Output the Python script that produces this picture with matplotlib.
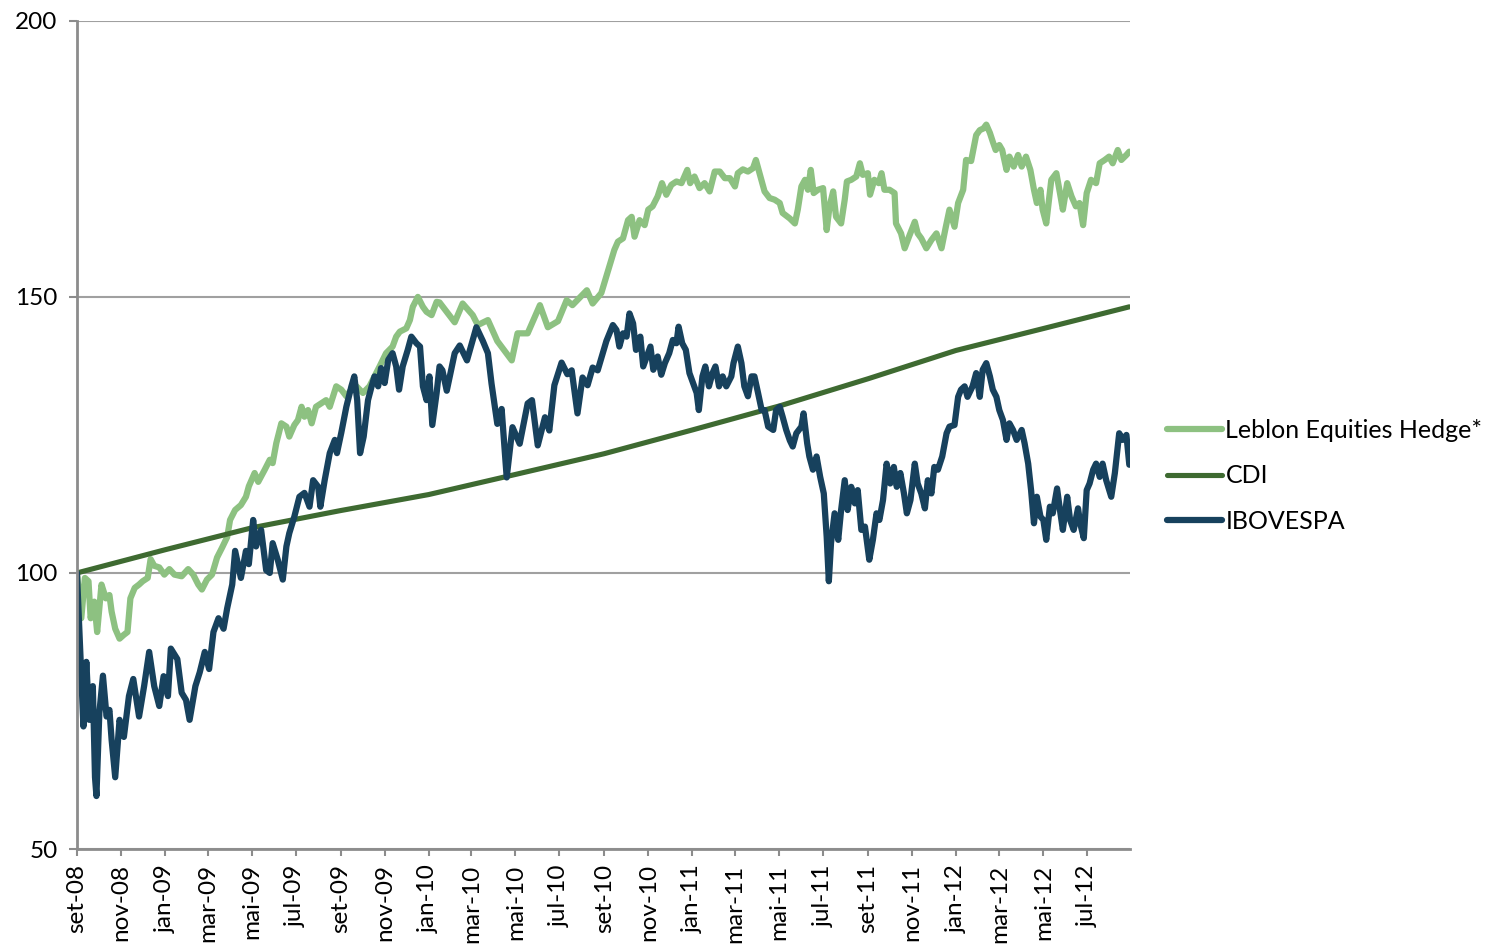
import numpy as np
import matplotlib
matplotlib.use("Agg")
import matplotlib.pyplot as plt

plt.rcParams['font.family'] = ['Lato', 'DejaVu Sans']

# x values are days counted from 2008-09-01
start = np.datetime64('2008-09-01')

leblon_days = [0, 6, 11, 16, 19, 24, 28, 34, 40, 45, 48, 53, 59, 65, 70, 74, 80, 86, 91, 98,
               102, 107, 114, 121, 128, 135, 145, 154, 161, 168, 173, 180, 187, 194, 201, 208,
               212, 219, 227, 234, 238, 246, 251, 260, 267, 271, 276, 283, 290, 294, 301, 306,
               311, 315, 320, 325, 331, 338, 345, 350, 359, 366, 373, 378, 387, 396, 405, 419,
               428, 437, 442, 447, 456, 461, 465, 472, 479, 484, 491, 498, 502, 523, 534, 548,
               555, 569, 582, 602, 610, 624, 641, 652, 666, 678, 686, 706, 714, 726, 737, 744,
               749, 756, 763, 768, 772, 779, 786, 791, 797, 804, 810, 816, 823, 830, 837, 845,
               849, 855, 862, 869, 876, 883, 890, 897, 904, 911, 915, 922, 929, 936, 940, 945,
               952, 959, 966, 973, 977, 987, 994, 998, 1003, 1008, 1012, 1016, 1020, 1026, 1033,
               1038, 1042, 1047, 1051, 1058, 1063, 1066, 1072, 1079, 1084, 1088, 1095, 1098, 1104,
               1110, 1114, 1118, 1125, 1132, 1134, 1141, 1146, 1152, 1160, 1164, 1169, 1176, 1183,
               1190, 1197, 1203, 1208, 1215, 1220, 1227, 1231, 1238, 1245, 1250, 1255, 1259, 1264,
               1268, 1272, 1277, 1281, 1287, 1291, 1297, 1303, 1308, 1314, 1320, 1325, 1329, 1334,
               1337, 1342, 1349, 1356, 1361, 1365, 1371, 1377, 1383, 1388, 1393, 1398, 1404, 1411,
               1416, 1423, 1429, 1434, 1441, 1446, 1453, 1457]
leblon = [100, 91.8, 99.1, 98.5, 91.8, 94.8, 89.3, 97.9, 95.4, 96, 93, 89.9, 88.1, 88.8, 89.3,
          95.4, 97.3, 97.9, 98.5, 99.1, 102.5, 101.3, 101, 99.7, 100.7, 99.7, 99.4, 100.7, 99.7,
          97.9, 97, 98.8, 99.7, 102.8, 104.6, 106.5, 109.6, 111.4, 112.3, 113.8, 115.7, 118.1,
          116.5, 118.7, 120.5, 119.9, 123.5, 127.1, 126.5, 124.7, 126.8, 127.7, 130.1, 128.3,
          129.5, 127.1, 130.1, 130.7, 131.3, 130.1, 133.8, 133.2, 132, 132.9, 133.8, 132.6, 133.8,
          137.4, 139.8, 141, 142.8, 143.7, 144.3, 145.8, 148.2, 150, 148.2, 147.3, 146.7, 149.1,
          149, 145.4, 148.8, 146.7, 144.9, 145.8, 142, 138.5, 143.4, 143.4, 148.5, 144.5, 145.6,
          149.4, 148.5, 151.2, 148.8, 150.7, 155.5, 158.5, 160, 160.6, 163.9, 164.5, 160.9, 163.9,
          163, 165.8, 166.4, 168.2, 170.6, 168.5, 170.3, 170.9, 170.6, 173, 170.6, 171.8, 169.7,
          170.6, 169.1, 172.7, 172.7, 171.5, 171.5, 170, 172.4, 173.1, 172.7, 173.3, 174.8, 172.4,
          169.1, 167.9, 167.6, 167, 165.2, 164.2, 163.3, 165.8, 170, 171.2, 169.4, 173, 168.8,
          169.4, 169.7, 162.1, 166.4, 169.1, 164.5, 163.3, 167.6, 170.9, 171.2, 171.8, 174.2,
          172.1, 172.4, 168.5, 171.2, 170.6, 172.4, 169.4, 169.4, 168.8, 163.3, 161.5, 158.8,
          160.9, 163.6, 161.5, 160.6, 158.8, 160.3, 161.5, 158.8, 162.7, 165.8, 162.7, 167, 169.4,
          174.8, 174.6, 179.3, 180.2, 180.5, 181.2, 179.7, 178.1, 176.6, 177.5, 176.6, 173, 175.4,
          173.6, 175.7, 173.6, 175.4, 173, 169.4, 167, 169.4, 165.8, 163.3, 171.2, 172.4, 168.8,
          165.8, 170.6, 168.2, 166.4, 167, 163, 168.8, 171.2, 170.6, 174.2, 174.8, 175.4, 174.2,
          176.6, 174.8, 175.7, 176.3]

cdi_days = [0, 122, 243, 365, 487, 609, 730, 852, 974, 1096, 1217, 1339, 1457]
cdi = [100, 104.2, 108.2, 111.3, 114.2, 117.9, 121.6, 125.9, 130.3, 135.2, 140.3, 144.3, 148.2]

ibov_days = [0, 9, 13, 17, 22, 25, 27, 31, 36, 41, 45, 48, 53, 59, 65, 72, 78, 86, 93, 100, 107,
             114, 120, 126, 130, 139, 145, 151, 156, 164, 170, 177, 183, 189, 196, 203, 208, 215,
             219, 227, 234, 238, 244, 248, 255, 262, 267, 271, 278, 285, 290, 294, 301, 308, 315,
             322, 327, 334, 337, 343, 350, 357, 360, 366, 373, 380, 384, 388, 392, 397, 403, 408,
             412, 417, 421, 426, 431, 437, 442, 446, 451, 458, 463, 470, 475, 479, 484, 488, 492,
             498, 502, 506, 512, 523, 530, 540, 553, 562, 569, 574, 582, 588, 595, 603, 613, 624,
             630, 638, 648, 654, 661, 671, 679, 685, 693, 700, 707, 714, 721, 728, 733, 742, 747,
             751, 756, 761, 765, 770, 774, 780, 784, 789, 794, 798, 804, 809, 814, 820, 825, 830,
             833, 838, 843, 848, 853, 858, 861, 866, 870, 875, 880, 884, 889, 894, 899, 906, 909,
             915, 920, 924, 929, 934, 938, 943, 948, 952, 957, 964, 968, 973, 977, 982, 987, 991,
             996, 1003, 1006, 1011, 1014, 1019, 1024, 1029, 1034, 1038, 1041, 1044, 1049, 1054,
             1058, 1063, 1067, 1072, 1077, 1081, 1086, 1091, 1097, 1102, 1107, 1111, 1116, 1121,
             1126, 1131, 1135, 1140, 1145, 1149, 1154, 1160, 1164, 1169, 1174, 1178, 1183, 1187,
             1192, 1198, 1204, 1208, 1215, 1220, 1224, 1229, 1233, 1240, 1245, 1250, 1254, 1259,
             1264, 1268, 1273, 1277, 1282, 1287, 1291, 1296, 1301, 1308, 1312, 1317, 1321, 1325,
             1329, 1334, 1338, 1342, 1347, 1351, 1357, 1361, 1365, 1371, 1375, 1380, 1386, 1389,
             1394, 1398, 1402, 1407, 1411, 1416, 1420, 1425, 1432, 1437, 1443, 1448, 1453, 1457]
ibov = [100, 72.2, 83.9, 73.4, 79.5, 63, 59.6, 74.6, 81.4, 74, 75.2, 69.8, 63, 73.4, 70.3, 77.7,
        80.8, 74, 79.5, 85.7, 79.5, 75.9, 81.3, 77.7, 86.3, 84.4, 78.3, 77, 73.4, 79.5, 82, 85.7,
        82.6, 89.3, 91.8, 89.9, 93.6, 97.9, 104, 99.1, 104, 101.6, 109.6, 104.8, 107.8, 100.5,
        100, 105.4, 102.4, 98.8, 104.8, 107.2, 110.2, 113.8, 114.5, 112, 116.8, 115.6, 112,
        116.8, 121.7, 124.1, 121.7, 125.4, 130.1, 133.8, 135.6, 131.3, 121.7, 124.7, 131.3,
        133.8, 135.6, 133.8, 137.1, 134.4, 138.6, 139.8, 137.4, 133.2, 137.4, 140.4, 142.8,
        141.6, 141, 133.8, 131.3, 135.6, 126.8, 132.6, 137.4, 136.7, 133, 139.8, 141.2, 138.5,
        144.5, 142, 139.8, 134.3, 127, 129.7, 117.3, 126.4, 123.4, 130.7, 131.3, 123.1, 128.2,
        125.8, 134, 138.1, 136, 136.7, 128.9, 135.4, 134, 137.2, 136.7, 139.8, 142, 144.9, 144,
        141, 143.4, 142.8, 147, 145.2, 140.4, 142.8, 137.4, 139.2, 141, 136.8, 139.2, 135.9,
        138, 139.8, 142.2, 141.6, 144.6, 141.6, 140.4, 136.2, 134.4, 132.6, 129.5, 135.6, 137.4,
        133.8, 136.2, 137.4, 133.8, 135.6, 133.8, 135.6, 138, 141, 138, 133.8, 132, 135.6,
        135.6, 132.6, 129.5, 129.5, 126.5, 125.9, 129.5, 130.1, 128.3, 125.9, 124, 122.9,
        125.3, 126.5, 128.9, 123.5, 121.1, 118.7, 121.1, 117.4, 114.4, 106.6, 98.5, 105.4,
        110.8, 106, 111.4, 116.8, 111.4, 115.6, 112.6, 115, 107.8, 108.4, 102.4, 106, 110.8,
        109.6, 113.2, 119.8, 116.2, 119.2, 115.6, 118.1, 114.4, 110.8, 113.2, 119.8, 116.2,
        114.4, 111.7, 116.8, 114.4, 119.2, 118.7, 121.1, 125.3, 126.5, 126.8, 131.9, 133.2,
        133.8, 131.9, 133.8, 136.2, 131.9, 136.8, 138, 135.6, 133.2, 131.9, 129.5, 127.7,
        124.1, 127.1, 125.9, 124.1, 125.9, 123.5, 119.8, 115, 109, 113.8, 110.2, 109.6, 106,
        112, 110.8, 115.3, 111.4, 107.8, 113.8, 109.6, 107.8, 111.7, 109, 106.3, 115, 116.2,
        118.7, 119.8, 117.4, 119.8, 116.8, 113.8, 118.1, 125.3, 124.1, 125, 119.6]

series_names = ['Leblon Equities Hedge*', 'CDI', 'IBOVESPA']
colors = ['#8dc181', '#3e6a31', '#17415d']

tick_labels = ['set-08', 'nov-08', 'jan-09', 'mar-09', 'mai-09', 'jul-09', 'set-09', 'nov-09',
               'jan-10', 'mar-10', 'mai-10', 'jul-10', 'set-10', 'nov-10', 'jan-11', 'mar-11',
               'mai-11', 'jul-11', 'set-11', 'nov-11', 'jan-12', 'mar-12', 'mai-12', 'jul-12']


def to_dates(days):
    return start + np.array(days).astype('timedelta64[D]')


fig = plt.figure(figsize=(14.91, 9.46), dpi=100)
ax = fig.add_axes([0.0516, 0.1025, 0.7063, 0.8755])

ax.plot(to_dates(leblon_days), leblon, color=colors[0], lw=4.5, label=series_names[0],
        solid_capstyle='round', solid_joinstyle='round')
ax.plot(to_dates(cdi_days), cdi, color=colors[1], lw=3.7, label=series_names[1],
        solid_capstyle='round')
ax.plot(to_dates(ibov_days), ibov, color=colors[2], lw=4.5, label=series_names[2],
        solid_capstyle='round', solid_joinstyle='round')

ax.set_ylim(50, 200)
ax.set_yticks([50, 100, 150, 200])
ax.set_xlim(start, start + np.timedelta64(1458, 'D'))
ticks = np.arange('2008-09', '2012-08', 2, dtype='datetime64[M]').astype('datetime64[D]')
ax.set_xticks(ticks)
ax.set_xticklabels(tick_labels, rotation=90)

ax.grid(axis='y', color='#a0a0a0', lw=1.5)
ax.set_axisbelow(True)
for s in ['top', 'right']:
    ax.spines[s].set_visible(False)
for s in ['left', 'bottom']:
    ax.spines[s].set_color('#8c8c8c')
    ax.spines[s].set_linewidth(2)
ax.tick_params(axis='y', length=6, width=1.5, color='#8c8c8c', pad=8, labelsize=17.5)
ax.tick_params(axis='x', length=5, width=1.5, color='#8c8c8c', pad=6, labelsize=17.5)

fig.legend(loc='center left', bbox_to_anchor=(0.783, 0.497), frameon=False, fontsize=18,
           handlelength=2.2, handletextpad=0.12, labelspacing=0.9,
           borderpad=0, borderaxespad=0)

fig.savefig('out.png', dpi=100)
